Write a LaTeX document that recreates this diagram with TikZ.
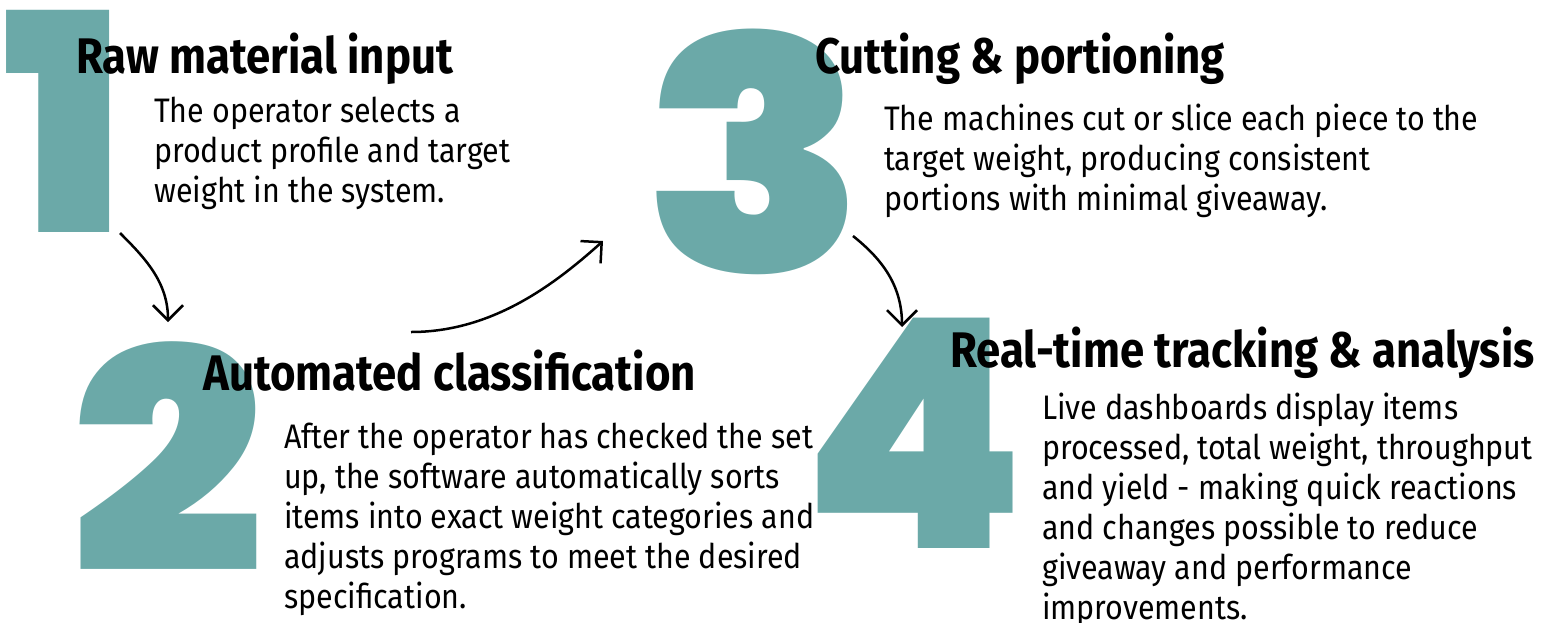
\documentclass[tikz,border=0pt]{standalone}
\usepackage{fontspec}
\setmainfont{Fira Sans}[FakeStretch=0.895]
\newfontfamily\titlefont{Fira Sans}[FakeStretch=0.875]
\newfontfamily\numfont{Poppins Black}
\usetikzlibrary{arrows.meta}
\definecolor{numteal}{HTML}{6BA9A8}

\tikzset{
  bignum/.style={text=numteal, inner sep=0pt, anchor=base},
  steptitle/.style={anchor=base west, inner sep=0pt, font=\titlefont\bfseries\fontsize{50}{50}\selectfont},
  stepbody/.style={anchor=base west, inner sep=0pt, align=left, font=\fontsize{34}{40}\selectfont},
  flow/.style={line width=2.5pt, -{Straight Barb[length=15pt,width=30pt]}}
}

\begin{document}
\begin{tikzpicture}[x=1pt,y=-1pt]
    \useasboundingbox (0,0) rectangle (1543,622);
    % big step numbers
    \node[bignum, font=\numfont\fontsize{304}{304}\selectfont] (n1) at (64,232) {1};
    \node[bignum, xscale=1.1, font=\numfont\fontsize{309}{309}\selectfont] (n2) at (168,572) {2};
    \node[bignum, xscale=1.11, font=\numfont\fontsize{326}{326}\selectfont] (n3) at (755,272) {3};
    \node[bignum, font=\numfont\fontsize{320}{320}\selectfont] (n4) at (914,548) {4};

    % titles
    \node[steptitle] (t1) at (76,73) {Raw material input};
    \node[steptitle] (t2) at (203,390) {Automated classification};
    \node[steptitle] (t3) at (815,73) {Cutting \& portioning};
    \node[steptitle] (t4) at (950,367) {Real-time tracking \& analysis};

    % descriptions (anchored at the last line)
    \node[stepbody] (b1) at (154,202) {The operator selects a\\product profile and target\\weight in the system.};
    \node[stepbody] (b2) at (284,608) {After the operator has checked the set\\up, the software automatically sorts\\items into exact weight categories and\\adjusts programs to meet the desired\\specification.};
    \node[stepbody] (b3) at (884,210) {The machines cut or slice each piece to the\\target weight, producing consistent\\portions with minimal giveaway.};
    \node[stepbody] (b4) at (1042,619) {Live dashboards display items\\processed, total weight, throughput\\and yield - making quick reactions\\and changes possible to reduce\\giveaway and performance\\improvements.};

    % arrows between the steps
    \coordinate (s12) at (120,233);
    \coordinate (e12) at (168,322);
    \coordinate (s23) at (411,332);
    \coordinate (e23) at (603,241);
    \coordinate (s34) at (853,236);
    \coordinate (e34) at (902,327);
    \draw[flow] (s12) .. controls +(25,25) and +(0,-40) .. (e12);
    \draw[flow] (s23) .. controls +(80,0) and +(-50,45) .. (e23);
    \draw[flow] (s34) .. controls +(25,20) and +(0,-45) .. (e34);
\end{tikzpicture}
\end{document}
